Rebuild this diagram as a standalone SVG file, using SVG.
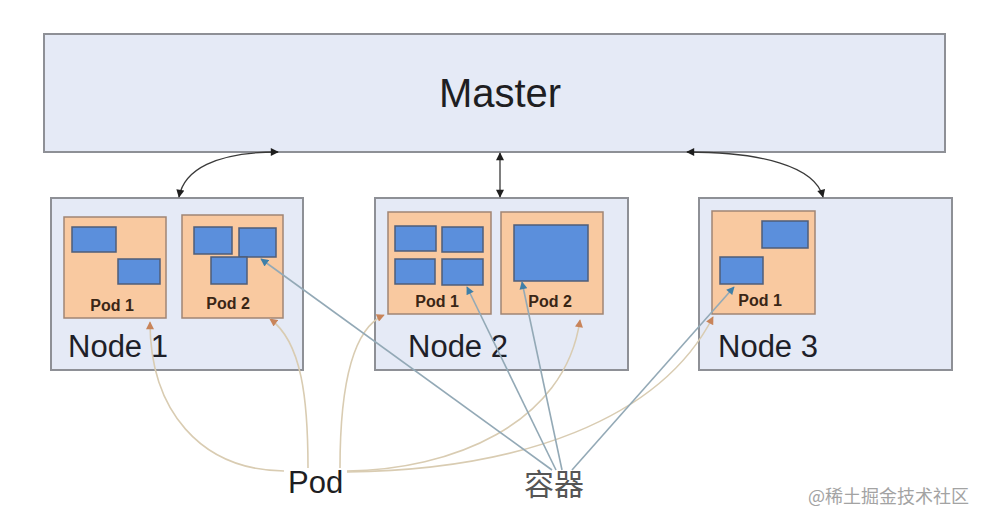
<svg xmlns="http://www.w3.org/2000/svg" width="986" height="524" viewBox="0 0 986 524">
  <defs>
    <style>
      .box { fill: #e5eaf6; stroke: #8e9096; stroke-width: 2; }
      .pod { fill: #f9c9a0; stroke: #a08574; stroke-width: 1.5; }
      .ctr { fill: #5b8fdc; stroke: #4f5d78; stroke-width: 1.5; }
      .title { font-family: "Liberation Sans", Arial, sans-serif; fill: #1e1e22; }
      .podlbl { font-family: "Liberation Sans", Arial, sans-serif; font-weight: bold; font-size: 16px; fill: #3a2616; text-anchor: middle; }
      .nodelbl { font-family: "Liberation Sans", Arial, sans-serif; font-size: 31px; fill: #1e2028; }
      .blk { fill: none; stroke: #3a3a3a; stroke-width: 1.3; marker-start: url(#ab); marker-end: url(#ab); }
      .tan { fill: none; stroke: #d9ccb2; stroke-width: 1.6; marker-end: url(#ao); }
      .blu { fill: none; stroke: #93a9b6; stroke-width: 1.6; marker-end: url(#au); }
    </style>
    <marker id="ab" viewBox="0 0 10 10" refX="9" refY="5" markerWidth="9" markerHeight="8" markerUnits="userSpaceOnUse" orient="auto-start-reverse">
      <path d="M0,0 L10,5 L0,10 z" fill="#1e1e1e"/>
    </marker>
    <marker id="ao" viewBox="0 0 10 10" refX="9" refY="5" markerWidth="9" markerHeight="8" markerUnits="userSpaceOnUse" orient="auto">
      <path d="M0,0 L10,5 L0,10 z" fill="#c8845a"/>
    </marker>
    <marker id="au" viewBox="0 0 10 10" refX="9" refY="5" markerWidth="9" markerHeight="8" markerUnits="userSpaceOnUse" orient="auto">
      <path d="M0,0 L10,5 L0,10 z" fill="#3f7fa8"/>
    </marker>
  </defs>
  <rect width="986" height="524" fill="#ffffff"/>

  <g id="master">
    <rect class="box" x="44" y="34" width="901" height="118"/>
    <text class="title" x="500" y="107" font-size="40" text-anchor="middle">Master</text>
  </g>

  <g id="node1">
    <rect class="box" x="51" y="198" width="252" height="172"/>
    <g id="node1-pod1">
      <rect class="pod" x="64" y="217" width="102" height="101"/>
      <rect class="ctr" x="72" y="227" width="44" height="25"/>
      <rect class="ctr" x="118" y="259" width="42" height="25"/>
      <text class="podlbl" x="112" y="311">Pod 1</text>
    </g>
    <g id="node1-pod2">
      <rect class="pod" x="182" y="215" width="101" height="103"/>
      <rect class="ctr" x="194" y="227" width="38" height="27"/>
      <rect class="ctr" x="239" y="228" width="37" height="29"/>
      <rect class="ctr" x="211" y="257" width="36" height="27"/>
      <text class="podlbl" x="228" y="309">Pod 2</text>
    </g>
    <text class="nodelbl" x="68" y="357">Node 1</text>
  </g>

  <g id="node2">
    <rect class="box" x="375" y="198" width="253" height="172"/>
    <g id="node2-pod1">
      <rect class="pod" x="388" y="212" width="103" height="102"/>
      <rect class="ctr" x="395" y="226" width="41" height="25"/>
      <rect class="ctr" x="442" y="227" width="41" height="25"/>
      <rect class="ctr" x="395" y="259" width="40" height="25"/>
      <rect class="ctr" x="442" y="259" width="41" height="26"/>
      <text class="podlbl" x="437" y="307">Pod 1</text>
    </g>
    <g id="node2-pod2">
      <rect class="pod" x="501" y="212" width="102" height="102"/>
      <rect class="ctr" x="514" y="225" width="74" height="56"/>
      <text class="podlbl" x="550" y="307">Pod 2</text>
    </g>
    <text class="nodelbl" x="408" y="357">Node 2</text>
  </g>

  <g id="node3">
    <rect class="box" x="699" y="198" width="253" height="172"/>
    <g id="node3-pod1">
      <rect class="pod" x="712" y="211" width="103" height="103"/>
      <rect class="ctr" x="762" y="221" width="46" height="27"/>
      <rect class="ctr" x="720" y="257" width="43" height="27"/>
      <text class="podlbl" x="760" y="306">Pod 1</text>
    </g>
    <text class="nodelbl" x="718" y="357">Node 3</text>
  </g>

  <g id="connectors">
    <path class="blk" d="M179,197 C184,170 215,152 278,152"/>
    <path class="blk" d="M500,153 L500,197"/>
    <path class="blk" d="M687,152 C760,152 815,166 823,197"/>

    <path class="tan" d="M284,471 C200,470 150,410 150,322"/>
    <path class="tan" d="M308,468 C308,400 302,342 270,319"/>
    <path class="tan" d="M340,468 C340,395 350,330 384,315"/>
    <path class="tan" d="M347,471 C450,470 565,425 580,320"/>
    <path class="tan" d="M347,472 C520,470 660,420 713,317"/>

    <path class="blu" d="M552,470 L261,259"/>
    <path class="blu" d="M556,470 L467,287"/>
    <path class="blu" d="M562,470 L522,282"/>
    <path class="blu" d="M572,470 L734,287"/>
  </g>

  <g id="labels">
    <text class="title" x="288" y="493" font-size="31">Pod</text>
    <text x="524" y="495" font-size="30" fill="#555555" font-family="'Noto Sans CJK SC', sans-serif">容器</text>
    <text x="808" y="503" font-size="18" fill="#a3a3a3" font-family="'Noto Sans CJK SC', sans-serif">@稀土掘金技术社区</text>
  </g>
</svg>
